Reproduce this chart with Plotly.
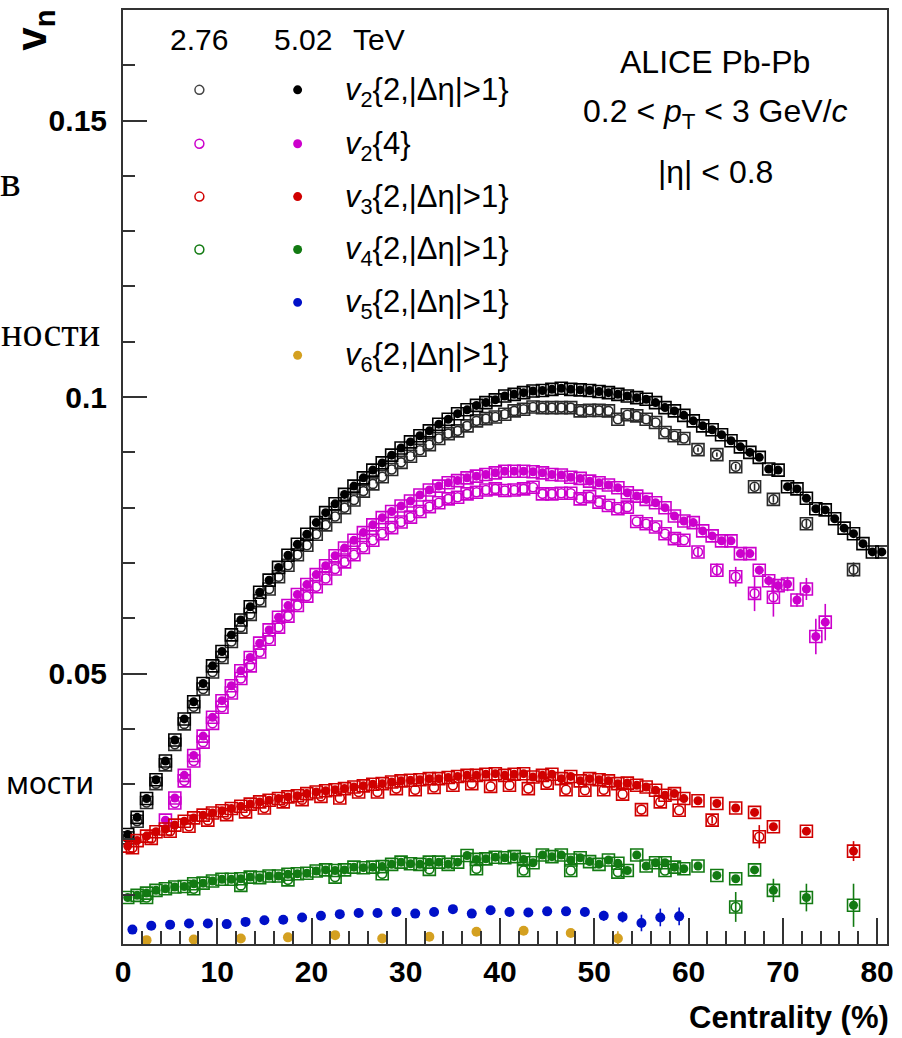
import plotly.graph_objects as go

# ---------------- data ----------------
# v2{2,|d eta|>1}, 5.02 TeV
c_v2_502 = [i + 0.5 for i in range(81)]
v2_502 = [0.0209, 0.0240, 0.0274, 0.0308, 0.0342, 0.0380, 0.0418, 0.0449, 0.0482, 0.0514,
          0.0540, 0.0570, 0.0597, 0.0621, 0.0647, 0.0669, 0.0692, 0.0714, 0.0734, 0.0752,
          0.0773, 0.0791, 0.0807, 0.0824, 0.0839, 0.0854, 0.0868, 0.0881, 0.0895, 0.0908,
          0.0919, 0.0930, 0.0939, 0.0951, 0.0960, 0.0970, 0.0977, 0.0985, 0.0990, 0.0995,
          0.1002, 0.1005, 0.1008, 0.1011, 0.1012, 0.1014, 0.1016, 0.1014, 0.1013, 0.1012,
          0.1010, 0.1008, 0.1005, 0.1002, 0.0999, 0.0996, 0.0990, 0.0981, 0.0975, 0.0967,
          0.0957, 0.0948, 0.0941, 0.0932, 0.0921, 0.0910, 0.0900, 0.0891, 0.0870, 0.0868,
          0.0838, 0.0834, 0.0817, 0.0798, 0.0796, 0.0780, 0.0763, 0.0753, 0.0735, 0.0720,
          0.0720]

# v2{2,|d eta|>1}, 2.76 TeV
c_v2_276 = [i + 0.5 for i in range(60)] + [61, 63, 65, 67, 69, 72.5, 77.5]
v2_276 = [0.0203, 0.0233, 0.0267, 0.0301, 0.0335, 0.0372, 0.0409, 0.0440, 0.0472, 0.0503,
          0.0529, 0.0558, 0.0584, 0.0607, 0.0632, 0.0653, 0.0675, 0.0696, 0.0715, 0.0732,
          0.0752, 0.0769, 0.0784, 0.0800, 0.0814, 0.0830, 0.0843, 0.0856, 0.0869, 0.0882,
          0.0893, 0.0904, 0.0914, 0.0925, 0.0934, 0.0939, 0.0948, 0.0957, 0.0961, 0.0964,
          0.0969, 0.0975, 0.0978, 0.0982, 0.0981, 0.0981, 0.0981, 0.0981, 0.0975, 0.0976,
          0.0976, 0.0975, 0.0960, 0.0968, 0.0966, 0.0960, 0.0954, 0.0936, 0.0930, 0.0925,
          0.0905, 0.0896, 0.0874, 0.0838, 0.0815, 0.0771, 0.0688]
e_v2_276_tail = [0.0004, 0.0004, 0.0005, 0.0006, 0.0006, 0.0007, 0.0013]

# v2{4}, 5.02 TeV
c_v24_502 = [i + 4.5 for i in range(71)]
v24_502 = [0.0235, 0.0275, 0.0316, 0.0352, 0.0387, 0.0421, 0.0451, 0.0478, 0.0505, 0.0529,
           0.0555, 0.0579, 0.0602, 0.0623, 0.0643, 0.0661, 0.0679, 0.0695, 0.0713, 0.0727,
           0.0741, 0.0755, 0.0769, 0.0782, 0.0793, 0.0803, 0.0812, 0.0823, 0.0832, 0.0839,
           0.0845, 0.0849, 0.0854, 0.0857, 0.0860, 0.0863, 0.0866, 0.0866, 0.0866, 0.0865,
           0.0863, 0.0860, 0.0859, 0.0855, 0.0853, 0.0848, 0.0845, 0.0841, 0.0836, 0.0827,
           0.0821, 0.0815, 0.0809, 0.0800, 0.0785, 0.0776, 0.0773, 0.0758, 0.0749, 0.0740,
           0.0740, 0.0717, 0.0717, 0.0687, 0.0668, 0.0659, 0.0662, 0.0633, 0.0653, 0.0567,
           0.0593]
e_v24_502_tail = [0.0008, 0.0009, 0.0010, 0.0013, 0.0012, 0.0020, 0.0032, 0.0033]

# v2{4}, 2.76 TeV
c_v24_276 = [i + 5.5 for i in range(55)] + [61, 63, 65, 67, 69]
v24_276 = [0.0266, 0.0306, 0.0342, 0.0376, 0.0410, 0.0439, 0.0465, 0.0491, 0.0514, 0.0539,
           0.0562, 0.0584, 0.0604, 0.0623, 0.0640, 0.0657, 0.0672, 0.0689, 0.0702, 0.0715,
           0.0728, 0.0741, 0.0753, 0.0764, 0.0774, 0.0783, 0.0793, 0.0802, 0.0809, 0.0816,
           0.0819, 0.0825, 0.0828, 0.0832, 0.0834, 0.0831, 0.0832, 0.0834, 0.0837, 0.0825,
           0.0825, 0.0826, 0.0826, 0.0816, 0.0820, 0.0810, 0.0804, 0.0798, 0.0801, 0.0775,
           0.0771, 0.0765, 0.0753, 0.0744, 0.0741, 0.0720, 0.0687, 0.0675, 0.0645, 0.0638]
e_v24_276_tail = [0.0008, 0.0012, 0.0018, 0.0032, 0.0035]

# v3{2,|d eta|>1}, 5.02 TeV
c_v3_502 = [i + 0.5 for i in range(60)] + [61, 63, 65, 67, 69, 72.5, 77.5]
v3_502 = [0.0188, 0.0198, 0.0206, 0.0214, 0.0219, 0.0226, 0.0233, 0.0239, 0.0244, 0.0248,
          0.0252, 0.0256, 0.0260, 0.0264, 0.0268, 0.0271, 0.0274, 0.0277, 0.0279, 0.0283,
          0.0286, 0.0288, 0.0290, 0.0292, 0.0295, 0.0297, 0.0300, 0.0301, 0.0304, 0.0306,
          0.0307, 0.0308, 0.0310, 0.0310, 0.0312, 0.0314, 0.0316, 0.0316, 0.0318, 0.0319,
          0.0316, 0.0318, 0.0319, 0.0313, 0.0316, 0.0318, 0.0310, 0.0314, 0.0306, 0.0310,
          0.0308, 0.0306, 0.0301, 0.0302, 0.0298, 0.0295, 0.0289, 0.0280, 0.0283, 0.0274,
          0.0270, 0.0265, 0.0257, 0.0249, 0.0223, 0.0215, 0.0179]
e_v3_502_tail = [0.0003, 0.0003, 0.0004, 0.0004, 0.0007, 0.0005, 0.0018]

# v3{2,|d eta|>1}, 2.76 TeV
c_v3_276 = [2 * i + 1 for i in range(30)] + [62.5, 67.5]
v3_276 = [0.0185, 0.0202, 0.0215, 0.0224, 0.0235, 0.0245, 0.0250, 0.0257, 0.0268, 0.0272,
          0.0278, 0.0275, 0.0286, 0.0286, 0.0292, 0.0290, 0.0294, 0.0298, 0.0301, 0.0296,
          0.0298, 0.0292, 0.0302, 0.0290, 0.0289, 0.0290, 0.0282, 0.0254, 0.0268, 0.0253,
          0.0235, 0.0205]
e_v3_276_tail = [0.0006, 0.0021]

# v4{2,|d eta|>1}, 5.02 TeV
c_v4_502 = [i + 0.5 for i in range(60)] + [61, 63, 65, 67, 69, 72.5, 77.5]
v4_502 = [0.0095, 0.0099, 0.0103, 0.0108, 0.0111, 0.0114, 0.0115, 0.0120, 0.0121, 0.0125,
          0.0128, 0.0128, 0.0129, 0.0132, 0.0131, 0.0134, 0.0134, 0.0137, 0.0138, 0.0139,
          0.0143, 0.0145, 0.0144, 0.0145, 0.0150, 0.0149, 0.0150, 0.0151, 0.0155, 0.0159,
          0.0156, 0.0155, 0.0159, 0.0159, 0.0155, 0.0159, 0.0171, 0.0164, 0.0165, 0.0168,
          0.0167, 0.0169, 0.0164, 0.0158, 0.0172, 0.0169, 0.0172, 0.0163, 0.0167, 0.0160,
          0.0155, 0.0163, 0.0157, 0.0144, 0.0172, 0.0152, 0.0158, 0.0158, 0.0150, 0.0147,
          0.0152, 0.0135, 0.0129, 0.0145, 0.0108, 0.0095, 0.0081]
e_v4_502_tail = [0.0004, 0.0005, 0.0006, 0.0006, 0.0021, 0.0025, 0.0039]

# v4{2,|d eta|>1}, 2.76 TeV
c_v4_276 = [2.5, 7.5, 12.5, 17.5, 22.5, 27.5, 32.5, 37.5, 42.5, 47.5, 52.5, 57.5, 65]
v4_276 = [0.0095, 0.0111, 0.0117, 0.0127, 0.0132, 0.0138, 0.0146, 0.0147, 0.0144, 0.0144,
          0.0141, 0.0144, 0.0078]
e_v4_276_tail = [0.0027]

# v5{2,|d eta|>1}, 5.02 TeV
c_v5_502 = [2 * i + 1 for i in range(30)]
v5_502 = [0.0037, 0.0044, 0.0046, 0.0048, 0.0048, 0.0047, 0.0051, 0.0054, 0.0055, 0.0059,
          0.0062, 0.0065, 0.0067, 0.0067, 0.0069, 0.0066, 0.0069, 0.0074, 0.0066, 0.0072,
          0.0069, 0.0068, 0.0070, 0.0070, 0.0069, 0.0062, 0.0060, 0.0049, 0.0059, 0.0061]
e_v5_502_tail = [0.0009, 0.0010, 0.0015, 0.0016, 0.0016]

# v6{2,|d eta|>1}, 5.02 TeV
c_v6_502 = [2.5, 7.5, 12.5, 17.5, 22.5, 27.5, 32.5, 37.5, 42.5, 47.5, 52.5]
v6_502 = [0.0018, 0.0019, 0.0021, 0.0023, 0.0027, 0.0021, 0.0024, 0.0033, 0.0035, 0.0031,
          0.0021]
e_v6_502_tail = [0.0013]

legend_labels = ["<i>v</i><sub>2</sub>{2,|Δη|>1}", "<i>v</i><sub>2</sub>{4}",
                 "<i>v</i><sub>3</sub>{2,|Δη|>1}", "<i>v</i><sub>4</sub>{2,|Δη|>1}",
                 "<i>v</i><sub>5</sub>{2,|Δη|>1}", "<i>v</i><sub>6</sub>{2,|Δη|>1}"]

# ---------------- styling ----------------
C_BLACK = "#000000"
C_MAG = "#cc00cc"
C_RED = "#d00000"
C_GREEN = "#127a12"
C_BLUE = "#0010c8"
C_GOLD = "#d4a020"

W, H = 902, 1038
ML, MR, MT, MB = 123, 9, 8, 94
PW, PH = W - ML - MR, H - MT - MB


def px_x(px):
    return (px - ML) / PW


def px_y(py):
    return (H - MB - py) / PH


def pad(tail, n):
    return [0.0] * (n - len(tail)) + tail


fig = go.Figure()


def add_series(x, y, color, filled, box=True, err=None, size=9):
    ey = None
    if err is not None:
        ey = dict(type="data", array=pad(err, len(x)), visible=True,
                  color=color, thickness=1.6, width=0)
    if box:
        fig.add_trace(go.Scatter(
            x=x, y=y, mode="markers", hoverinfo="skip",
            marker=dict(symbol="square-open", size=12, color=color,
                        line=dict(width=1.6, color=color)),
            error_y=ey))
        ey = None
    if filled:
        fig.add_trace(go.Scatter(
            x=x, y=y, mode="markers",
            marker=dict(symbol="circle", size=size, color=color, line=dict(width=0)),
            error_y=ey))
    else:
        fig.add_trace(go.Scatter(
            x=x, y=y, mode="markers",
            marker=dict(symbol="circle-open", size=size, color=color,
                        line=dict(width=1.6, color=color)),
            error_y=ey))


# 2.76 TeV (open)
add_series(c_v2_276, v2_276, "#2a2a2a", False, err=e_v2_276_tail)
add_series(c_v24_276, v24_276, C_MAG, False, err=e_v24_276_tail)
add_series(c_v3_276, v3_276, C_RED, False, err=e_v3_276_tail)
add_series(c_v4_276, v4_276, C_GREEN, False, err=e_v4_276_tail)
# 5.02 TeV (filled)
add_series(c_v2_502, v2_502, C_BLACK, True)
add_series(c_v24_502, v24_502, C_MAG, True, err=e_v24_502_tail)
add_series(c_v3_502, v3_502, C_RED, True, err=e_v3_502_tail)
add_series(c_v4_502, v4_502, C_GREEN, True, err=e_v4_502_tail)
add_series(c_v5_502, v5_502, C_BLUE, True, box=False, err=e_v5_502_tail, size=10)
add_series(c_v6_502, v6_502, C_GOLD, True, box=False, err=e_v6_502_tail, size=10)

AXC = "#333333"
tickfont = dict(family="Liberation Sans", size=30, color="black", weight="bold")
fig.update_xaxes(range=[0, 81.05], showline=True, linewidth=2, linecolor=AXC, mirror=True,
                 ticks="inside", ticklen=26, tickwidth=1.5, tickcolor=AXC,
                 tick0=0, dtick=10, showgrid=False, zeroline=False, tickfont=tickfont,
                 ticklabelstandoff=0,
                 minor=dict(ticks="inside", ticklen=13, dtick=2, tickwidth=1.5,
                            tickcolor=AXC, showgrid=False))
fig.update_yaxes(range=[0.0011, 0.170], showline=True, linewidth=2, linecolor=AXC, mirror=True,
                 ticks="inside", ticklen=24, tickwidth=1.5, tickcolor=AXC,
                 tick0=0, dtick=0.05, showgrid=False, zeroline=False, tickfont=tickfont,
                 ticklabelstandoff=8,
                 minor=dict(ticks="inside", ticklen=12, dtick=0.01, tickwidth=1.5,
                            tickcolor=AXC, showgrid=False))

ann = []
shapes = []
SANS = "Liberation Sans"


def text(px, py, s, size=30, anchor="left", family=SANS, color="black", weight="normal", angle=0):
    ann.append(dict(x=px_x(px), y=px_y(py), xref="paper", yref="paper", text=s,
                    showarrow=False, xanchor=anchor, yanchor="middle", textangle=angle,
                    font=dict(family=family, size=size, color=color, weight=weight)))


# axis titles
text(34, 28, "v<sub>n</sub>", size=42, anchor="center", weight="bold", angle=-90)
text(897, 1018, "Centrality (%)", size=31, anchor="right", weight="bold")

# legend header
text(200, 38, "2.76", size=30, anchor="center")
text(273, 38, "5.02", size=30, anchor="left")
text(353, 38, "TeV", size=30, anchor="left")

legend_colors = [C_BLACK, C_MAG, C_RED, C_GREEN, C_BLUE, C_GOLD]
open_colors = ["#444444", C_MAG, C_RED, C_GREEN]
rows = [88, 142, 195, 248, 301, 354]
for i, (lab, col, ry) in enumerate(zip(legend_labels, legend_colors, rows)):
    text(345, ry + 2, lab, size=31, anchor="left")
    r = 4.5
    shapes.append(dict(type="circle", xref="paper", yref="paper",
                       x0=px_x(299 - r), x1=px_x(299 + r), y0=px_y(ry + r), y1=px_y(ry - r),
                       fillcolor=col, line=dict(width=0)))
    if i < 4:
        shapes.append(dict(type="circle", xref="paper", yref="paper",
                           x0=px_x(200 - r), x1=px_x(200 + r), y0=px_y(ry + r), y1=px_y(ry - r),
                           fillcolor="white", line=dict(width=1.5, color=open_colors[i])))

# ALICE label block
text(720, 60, "ALICE Pb-Pb", size=32, anchor="center")
text(720, 112, "0.2 < <i>p</i><sub>T</sub> < 3 GeV/<i>c</i>", size=32, anchor="center")
text(720, 170, "|η| < 0.8", size=32, anchor="center")

# fragments of surrounding page text
text(22, 180, "в", size=44, anchor="right", family="Liberation Serif")
text(102, 331, "ности", size=40, anchor="right", family="Liberation Serif")
text(96, 782, "мости", size=30, anchor="right", family="Noto Sans")

fig.update_layout(width=W, height=H, margin=dict(l=ML, r=MR, t=MT, b=MB),
                  plot_bgcolor="white", paper_bgcolor="white", showlegend=False,
                  annotations=ann, shapes=shapes)

fig.write_html("out.html", config={"displayModeBar": False},
               post_script="document.body.style.margin='0';document.body.style.overflow='hidden';")
